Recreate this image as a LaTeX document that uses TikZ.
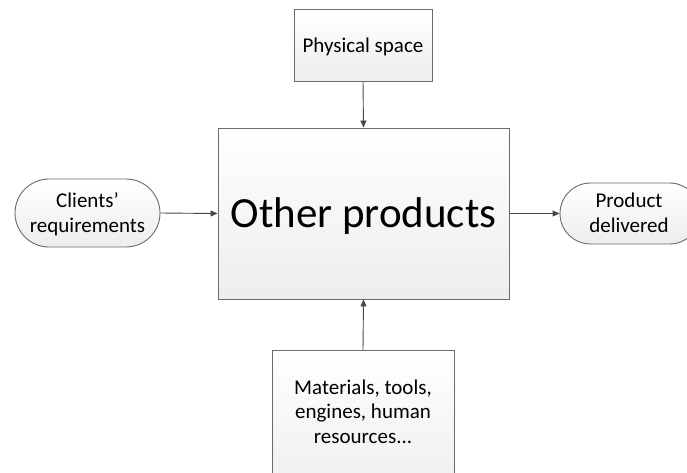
\documentclass[tikz,border=0pt]{standalone}
\usepackage{fontspec}
\setmainfont{Carlito}
\usetikzlibrary{arrows.meta,shapes.misc}
\tikzset{
  boxfill/.style={draw=black!58, line width=0.9pt, top color=white, bottom color=black!7},
  rectbox/.style={boxfill, rectangle, inner sep=0pt},
  pill/.style={boxfill, rounded rectangle, inner sep=0pt},
  smalltext/.style={font=\fontsize{21}{24.5}\selectfont, align=center},
  conn/.style={draw=black!72, line width=0.9pt, -{Triangle[length=7pt,width=6pt]}}
}
\begin{document}
\begin{tikzpicture}[x=1pt,y=-1pt]
\useasboundingbox (0,0) rectangle (687,472);
\begin{scope}
\clip (0,0) rectangle (687,472);
% main box
\node[rectbox, minimum width=291pt, minimum height=171pt] (main) at (363.5,213.5) {};
\node[anchor=base, font=\fontsize{43}{50}\selectfont, inner sep=0pt] (maintext) at (363.5,227) {Other products};
% physical space
\node[rectbox, minimum width=138pt, minimum height=72pt] (phys) at (363,45) {};
\node[smalltext, anchor=base, inner sep=0pt] (physt) at (363,52.7) {Physical space};
% clients
\node[pill, minimum width=145pt, minimum height=68pt] (cli) at (87.5,213) {};
\node[smalltext, anchor=base, inner sep=0pt] (clit) at (87.5,232.2) {Clients’\\requirements};
% product delivered
\node[pill, minimum width=140pt, minimum height=61pt] (prod) at (630,213.5) {};
\node[smalltext, anchor=base, inner sep=0pt] (prodt) at (629,232) {Product\\delivered};
% bottom box
\node[rectbox, minimum width=182pt, minimum height=150pt, anchor=north] (mat) at (363,350) {};
\node[smalltext, anchor=base, inner sep=0pt] (matt) at (363,443) {Materials, tools,\\engines, human\\resources...};
\end{scope}
% connectors
\draw[conn] (phys.south) -- (main.north);
\draw[conn] (mat.north) -- (main.south);
\draw[conn] (cli.east) -- (main.west);
\draw[conn] (main.east) -- (prod.west);
\end{tikzpicture}
\end{document}
